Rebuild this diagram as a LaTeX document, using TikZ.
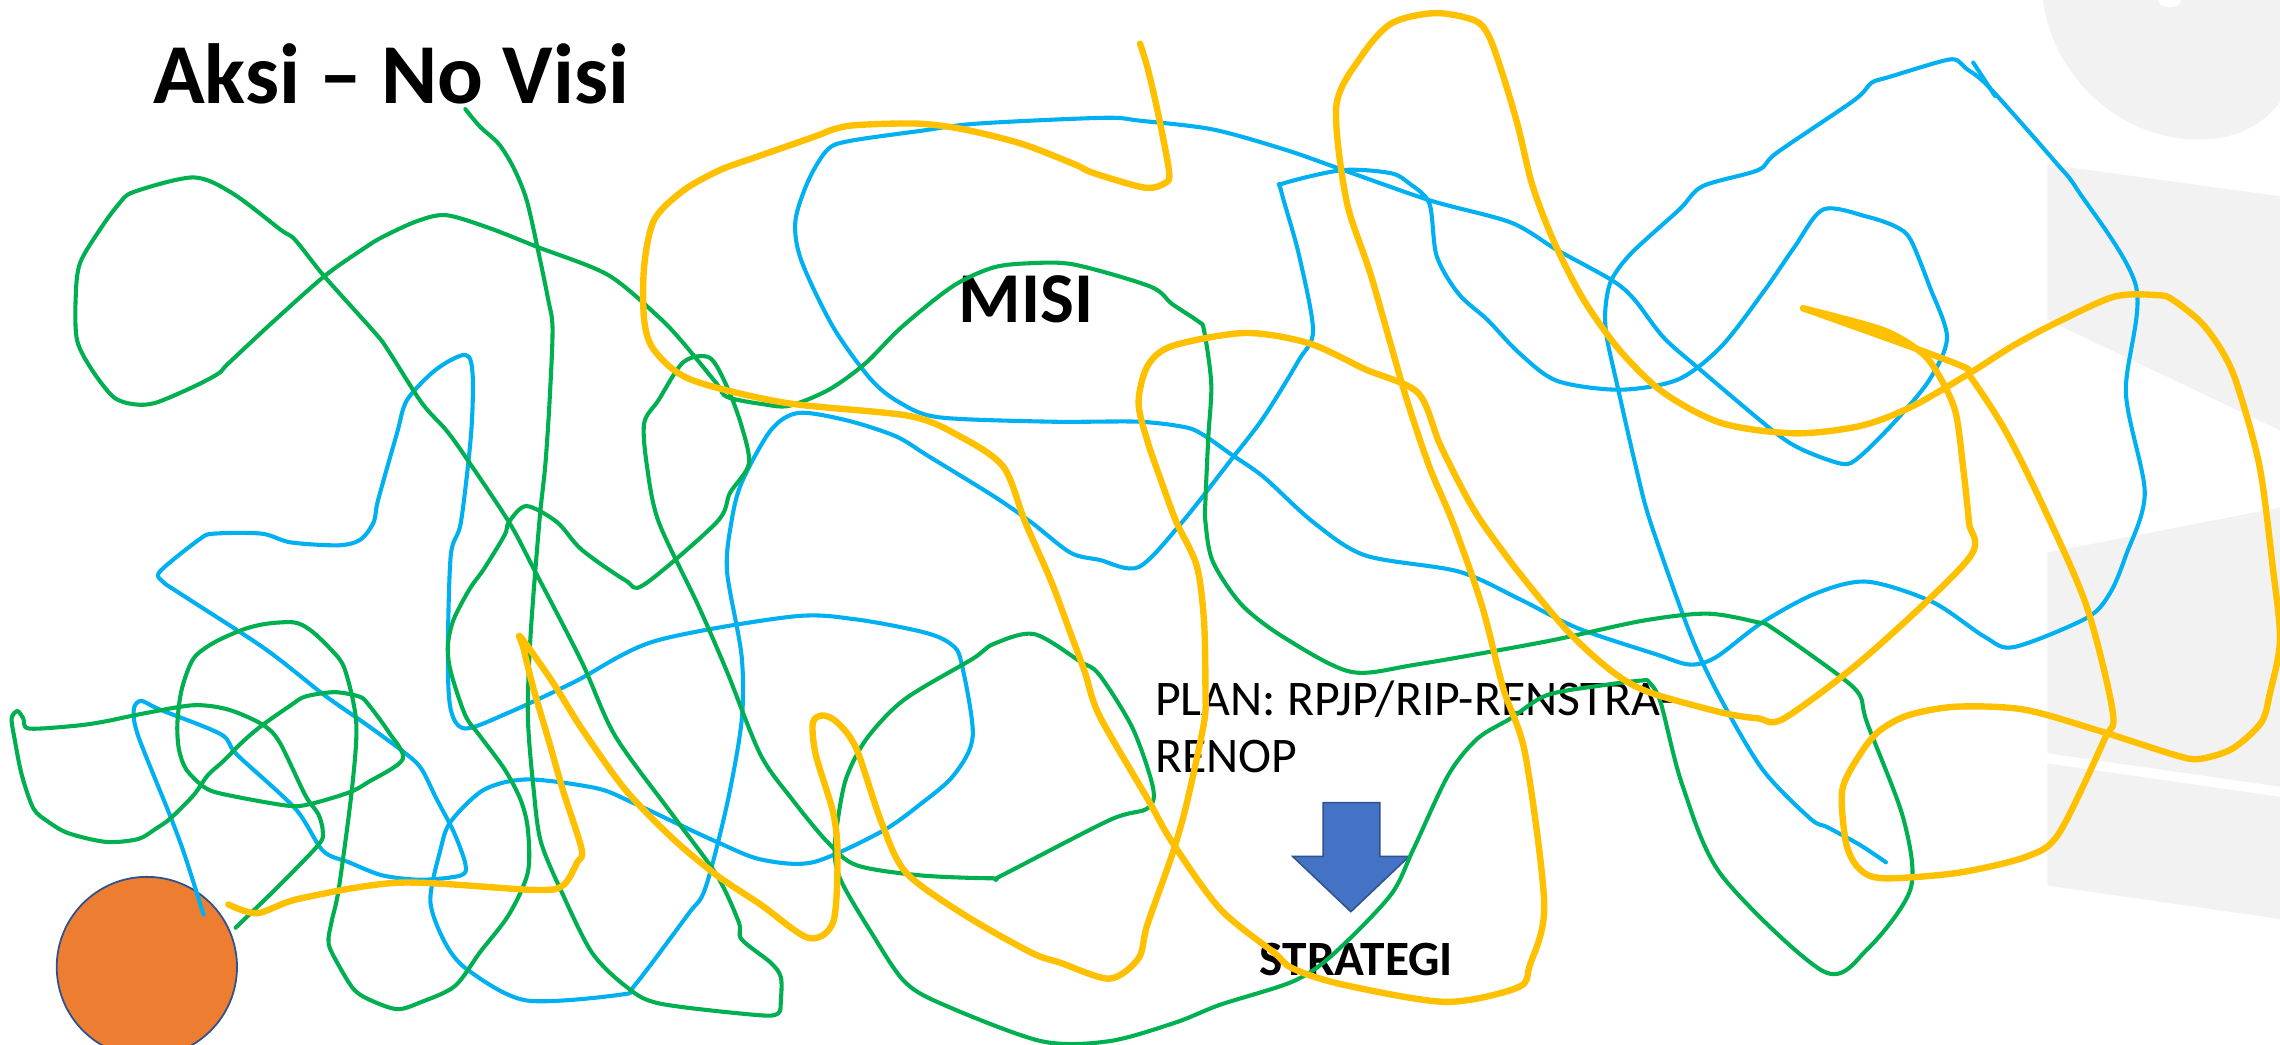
\documentclass[tikz,border=0pt]{standalone}
\usepackage{fontspec}
\setmainfont{Carlito}
\definecolor{scribbleblue}{HTML}{00B0F0}
\definecolor{scribblegreen}{HTML}{00B050}
\definecolor{scribbleyellow}{HTML}{FFC000}
\definecolor{arrowblue}{HTML}{4472C4}
\definecolor{edgeblue}{HTML}{2F528F}
\definecolor{dotorange}{HTML}{ED7D31}
\definecolor{panelgray}{HTML}{F2F2F2}
\tikzset{
  bluepen/.style={scribbleblue, line width=1.6pt, line join=round, line cap=round},
  greenpen/.style={scribblegreen, line width=1.6pt, line join=round, line cap=round},
  yellowpen/.style={scribbleyellow, line width=2.5pt, line join=round, line cap=round},
  label/.style={anchor=base west, inner sep=0pt},
}

\begin{document}
\begin{tikzpicture}[x=0.02cm, y=-0.02cm]
   \useasboundingbox (0,0) rectangle (1568,718);

   %draw grey panels on the right
   \fill[panelgray] (1405,0) .. controls (1412,55) and (1460,96) .. (1512,96)
        .. controls (1540,96) and (1558,84) .. (1568,70) -- (1568,0) -- cycle;
   \fill[white] (1500,0) arc (0:180:8 and 5);
   \fill[panelgray] (1408,113) -- (1568,135) -- (1568,296) -- (1408,220) -- cycle;
   \fill[panelgray] (1408,380) -- (1568,349) -- (1568,541) -- (1408,518) -- cycle;
   \fill[panelgray] (1408,525) -- (1568,548) -- (1568,632) -- (1408,609) -- cycle;

   %draw orange dot
   \node[circle, fill=dotorange, draw=edgeblue, line width=0.7pt, minimum size=2.48cm, inner sep=0pt] (dot) at (101,665) {};

   %draw texts
   \node[label] (aksi) at (105,71) {\fontsize{33.4}{40}\selectfont\bfseries Aksi – No Visi};
   \node[label] (misi) at (659,222) {\fontsize{28}{34}\selectfont\bfseries MISI};
   \node[label, align=left, font=\fontsize{19.5}{22}\selectfont] (plan) at (794,531) {PLAN: RPJP/RIP-RENSTRA-\\RENOP};
   \node[label] (strategi) at (866,671) {\fontsize{19.3}{23}\selectfont\bfseries STRATEGI};

   %draw down arrow
   \draw[fill=arrowblue, draw=edgeblue, line width=0.6pt] (910,552) -- (949,552) -- (949,589) -- (969,589)
        -- (929,627) -- (889,589) -- (910,589) -- cycle;

   %draw blue scribble
   \draw[bluepen] plot[smooth, tension=0.5] coordinates {
     (140,629) (127,588) (117,561) (95,506) (92,488) (97,482) (110,488) (152,505) (163,519)
     (203,556) (222,585) (240,593) (263,602) (290,605) (317,602) (320,594) (312,572) (300,549)
     (290,529) (280,519) (253,499) (223,478) (182,446) (122,407) (112,400) (110,393) (137,371)
     (147,367) (180,367) (200,373) (233,375) (248,371) (257,359) (260,344) (273,298) (280,275)
     (300,254) (320,244) (325,257) (324,298) (317,359) (310,382) (308,451) (310,488) (320,501)
     (350,490) (395,469) (450,441) (545,424) (589,426) (636,435) (654,443) (661,455) (669,506)
     (656,533) (633,553) (606,572) (559,593) (523,591) (493,579) (467,567) (433,551) (410,542)
     (363,536) (333,543) (310,565) (303,584) (296,620) (307,650) (323,668) (362,688) (427,684)
     (437,677) (473,629) (485,611) (500,553) (510,496) (510,451) (500,393) (503,359) (510,332)
     (530,296) (549,284) (582,289) (616,300) (639,314) (683,341) (709,359) (736,380) (756,385)
     (783,390) (813,359) (846,317) (869,287) (893,248) (903,227) (893,174) (881,131) (883,126)
     (923,117) (956,119) (969,126) (983,140) (988,176) (1003,202) (1023,220) (1045,243)
     (1071,262) (1114,268) (1154,261) (1184,238) (1214,199) (1234,170) (1254,144) (1284,149)
     (1304,156) (1314,165) (1327,197) (1339,232) (1327,261) (1304,289) (1279,314) (1267,319)
     (1239,309) (1219,296) (1169,254) (1144,232) (1124,206) (1109,193) (1071,172) (1039,153)
     (984,138) (924,117) (884,103) (834,89) (784,83) (759,81) (672,85) (633,90) (584,97)
     (569,103) (556,124) (547,152) (551,179) (573,225) (599,261) (619,277) (646,287) (723,290)
     (783,290) (816,294) (829,300) (846,312) (869,328) (903,359) (939,382) (1003,393)
     (1045,412) (1085,432) (1139,450) (1162,457) (1180,452) (1212,428) (1249,408) (1284,400)
     (1329,414) (1365,438) (1385,445) (1435,425) (1451,408) (1462,382) (1475,339) (1462,270)
     (1469,197) (1429,131) (1414,112) (1368,60) (1352,47) (1349,44) (1340,41) (1299,53)
     (1287,57) (1275,69) (1222,105) (1209,117) (1171,128) (1155,144) (1122,174) (1108,193)
     (1104,213) (1105,232) (1112,264) (1125,321) (1135,359) (1162,435) (1182,478) (1212,529)
     (1245,563) (1257,569) (1279,581) (1297,593)};
   \draw[bluepen] (1357,43) -- (1372,66);

   %draw green scribble
   \draw[greenpen] plot[smooth, tension=0.5] coordinates {
     (320,75) (330,87) (343,99) (353,115) (362,137) (370,172) (377,206) (380,226) (378,275)
     (375,320) (371,358) (365,435) (363,492) (367,543) (372,579) (387,615) (407,655) (430,678)
     (453,690) (520,698) (535,697) (537,688) (537,672) (530,662) (510,646) (508,634) (493,602)
     (463,561) (423,506) (400,455) (367,391) (350,359) (320,314) (307,296) (290,277) (267,241)
     (258,229) (223,190) (203,165) (193,158) (160,133) (133,122) (92,132) (82,140) (70,156)
     (55,181) (52,206) (53,234) (63,254) (78,273) (92,278) (107,277) (133,266) (150,257)
     (157,250) (187,222) (223,190) (250,171) (263,163) (287,152) (307,148) (337,157) (370,170)
     (418,189) (453,218) (470,236) (493,264) (500,273) (525,278) (543,279) (570,268) (595,250)
     (620,225) (655,197) (683,184) (709,181) (739,182) (791,197) (806,209) (824,221) (828,227)
     (833,264) (831,300) (829,344) (829,359) (834,386) (854,416) (884,439) (929,462) (974,457)
     (1064,441) (1129,427) (1174,422) (1209,428) (1219,432) (1264,464) (1279,478) (1284,497)
     (1309,563) (1314,611) (1284,653) (1254,668) (1184,602) (1157,540) (1142,483) (1134,469)
     (1129,468) (1104,471) (1064,478) (1039,494) (1016,508) (996,533) (972,584) (956,616)
     (916,657) (889,675) (839,691) (809,703) (763,716) (716,716) (649,691) (622,675) (599,641)
     (579,607) (574,588) (576,565) (582,535) (596,508) (622,481) (669,453) (683,443) (711,436)
     (743,455) (756,464) (779,501) (793,542) (789,556) (763,564) (689,602) (683,604) (633,602)
     (589,595) (569,579) (545,550) (523,519) (500,462) (480,416) (453,359) (445,321) (443,291)
     (453,275) (470,249) (488,246) (500,266) (510,293) (515,319) (502,339) (493,359) (443,402)
     (430,399) (400,378) (383,359) (362,348) (350,359) (347,368) (333,391) (323,405) (312,426)
     (308,444) (310,462) (320,492) (330,506) (347,529) (358,550) (363,570) (363,600) (350,629)
     (330,655) (313,678) (290,689) (273,694) (253,687) (243,680) (233,664) (226,649) (228,634)
     (233,611) (242,543) (245,497) (237,460) (227,446) (213,433) (202,428) (183,429) (167,433)
     (147,442) (133,453) (125,474) (122,497) (123,515) (128,529) (140,541) (153,546) (197,554)
     (213,553) (240,545) (253,538) (277,522) (267,503) (253,484) (247,479) (230,476) (210,479)
     (200,485) (180,499) (167,510) (153,524) (143,533) (133,547) (117,563) (107,570) (95,577)
     (73,579) (47,573) (33,565) (23,556) (15,533) (10,508) (8,494) (12,489) (16,494) (20,501)
     (53,499) (73,496) (97,491) (133,485) (157,488) (180,498) (192,510) (210,547) (219,560)
     (222,572) (219,581) (190,611) (162,638)};

   %draw yellow scribble
   \draw[yellowpen] plot[smooth, tension=0.5] coordinates {
     (784,30) (789,46) (796,76) (804,118) (801,126) (787,129) (752,119) (739,113) (703,99)
     (663,89) (631,85) (589,86) (573,89) (560,94) (520,108) (495,117) (470,131) (450,151)
     (443,183) (443,220) (450,241) (475,261) (540,277) (625,286) (660,300) (690,321) (705,359)
     (723,400) (736,435) (746,462) (756,492) (789,549) (806,579) (839,625) (876,655) (889,666)
     (923,677) (994,689) (1044,679) (1052,664) (1062,622) (1049,519) (1034,474) (1019,416)
     (999,359) (983,321) (966,270) (943,190) (926,138) (919,73) (936,39) (957,16) (987,9)
     (1014,14) (1024,25) (1034,53) (1044,87) (1054,128) (1069,167) (1089,206) (1114,241)
     (1144,270) (1184,291) (1234,298) (1279,293) (1314,280) (1354,257) (1384,238) (1414,222)
     (1454,204) (1484,203) (1494,206) (1514,222) (1529,243) (1539,266) (1554,321) (1563,390)
     (1568,440) (1561,477) (1555,497) (1535,515) (1512,522) (1495,519) (1445,503) (1392,488)
     (1345,486) (1312,492) (1292,503) (1279,519) (1267,543) (1269,577) (1275,593) (1285,602)
     (1302,604) (1348,600) (1394,589) (1416,573) (1447,509) (1453,490) (1435,417) (1405,348)
     (1379,296) (1355,259) (1345,250) (1240,212)};
   \draw[yellowpen] plot[smooth, tension=0.5] coordinates {
     (157,622) (177,628) (206,618) (275,607) (367,612) (387,609) (397,593) (400,584) (387,543)
     (377,508) (367,474) (360,446) (358,438) (380,469) (400,501) (430,543) (463,577) (493,602)
     (523,622) (556,645) (573,634) (576,588) (573,559) (561,519) (559,497) (566,492) (576,497)
     (589,515) (606,565) (623,600) (663,629) (709,655) (729,662) (763,673) (783,659) (789,636)
     (806,588) (816,553) (828,497) (829,474) (828,427) (823,389) (809,359) (799,332) (789,303)
     (783,277) (789,252) (806,238) (856,229) (900,236) (939,254) (975,270) (990,305) (1006,337)
     (1019,359) (1044,393) (1079,435) (1109,462) (1134,476) (1184,490) (1209,494) (1227,494)
     (1284,451) (1354,384) (1354,359) (1350,321) (1345,284) (1335,261) (1322,243) (1295,227)
     (1240,212)};
\end{tikzpicture}
\end{document}
